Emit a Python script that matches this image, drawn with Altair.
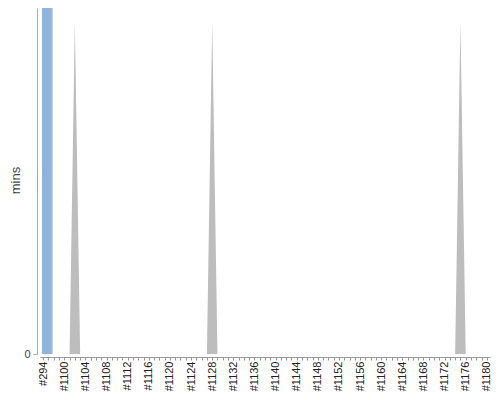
import json
import altair as alt
import pandas as pd

# Build numbers on the x axis (ordinal)
builds = ["#294"] + ["#%d" % n for n in range(1097, 1181)]

# Build durations (mins)
durations = [
    0, 0, 0, 0, 0, 0, 24, 0, 0, 0,
    0, 0, 0, 0, 0, 0, 0, 0, 0, 0,
    0, 0, 0, 0, 0, 0, 0, 0, 0, 0,
    0, 0, 24, 0, 0, 0, 0, 0, 0, 0,
    0, 0, 0, 0, 0, 0, 0, 0, 0, 0,
    0, 0, 0, 0, 0, 0, 0, 0, 0, 0,
    0, 0, 0, 0, 0, 0, 0, 0, 0, 0,
    0, 0, 0, 0, 0, 0, 0, 0, 0, 24,
    0, 0, 0, 0, 0,
]

# Highlighted (current) build
highlight_builds = ["#294"]
highlight_values = [25]

# Labelled ticks (every 4th build)
tick_labels = ["#294", "#1100", "#1104", "#1108", "#1112", "#1116", "#1120",
               "#1124", "#1128", "#1132", "#1136", "#1140", "#1144", "#1148",
               "#1152", "#1156", "#1160", "#1164", "#1168", "#1172", "#1176",
               "#1180"]
y_max = 25

df = pd.DataFrame({"build": builds, "mins": durations})
hl = pd.DataFrame({"build": highlight_builds, "mins": highlight_values})

label_expr = "indexof(%s, datum.value) >= 0 ? datum.value : ''" % json.dumps(tick_labels)

x_enc = alt.X(
    "build:O",
    scale=alt.Scale(domain=builds, type="point", padding=0.6),
    axis=alt.Axis(
        title=None, labelAngle=270, labelAlign="right", labelBaseline="middle",
        labelFontSize=11, labelColor="#222", labelPadding=1, labelOverlap=False,
        labelExpr=label_expr, tickSize=3, tickColor="#999", domainColor="#999",
        offset=3, grid=False,
    ),
)
y_enc = alt.Y(
    "mins:Q",
    scale=alt.Scale(domain=[0, y_max], nice=False, zero=True),
    axis=alt.Axis(
        title="mins", values=[0], offset=3, grid=False,
        domainColor="#aaa", tickColor="#aaa", tickSize=4, labelPadding=3,
        labelFontSize=11, labelColor="#444",
        titleFontSize=13, titleFontWeight="normal", titleColor="#444",
        titleX=-22, titleY=172, titleAlign="center", titleBaseline="middle",
    ),
)

area = alt.Chart(df).mark_area(color="#bdbdbd", interpolate="linear", clip=True).encode(
    x=x_enc, y=y_enc
)
strip = alt.Chart(hl).mark_bar(color="#b8b8b8", size=10.5, xOffset=4.25, clip=True).encode(
    x=x_enc, y=y_enc
)
blue = alt.Chart(hl).mark_bar(color="#8eb3df", size=9, xOffset=3.5, clip=True).encode(
    x=x_enc, y=y_enc
)

chart = (
    alt.layer(area, strip, blue, view=alt.ViewBackground(stroke="transparent", strokeWidth=0))
    .properties(
        width=450, height=346,
        autosize=alt.AutoSizeParams(type="none"),
        padding={"left": 32, "top": 0, "right": 2, "bottom": 38},
    )
    .configure_view(stroke="transparent", strokeWidth=0)
    .configure(font="Liberation Sans")
)

chart.save("out.html", embed_options={"renderer": "svg", "actions": False})
